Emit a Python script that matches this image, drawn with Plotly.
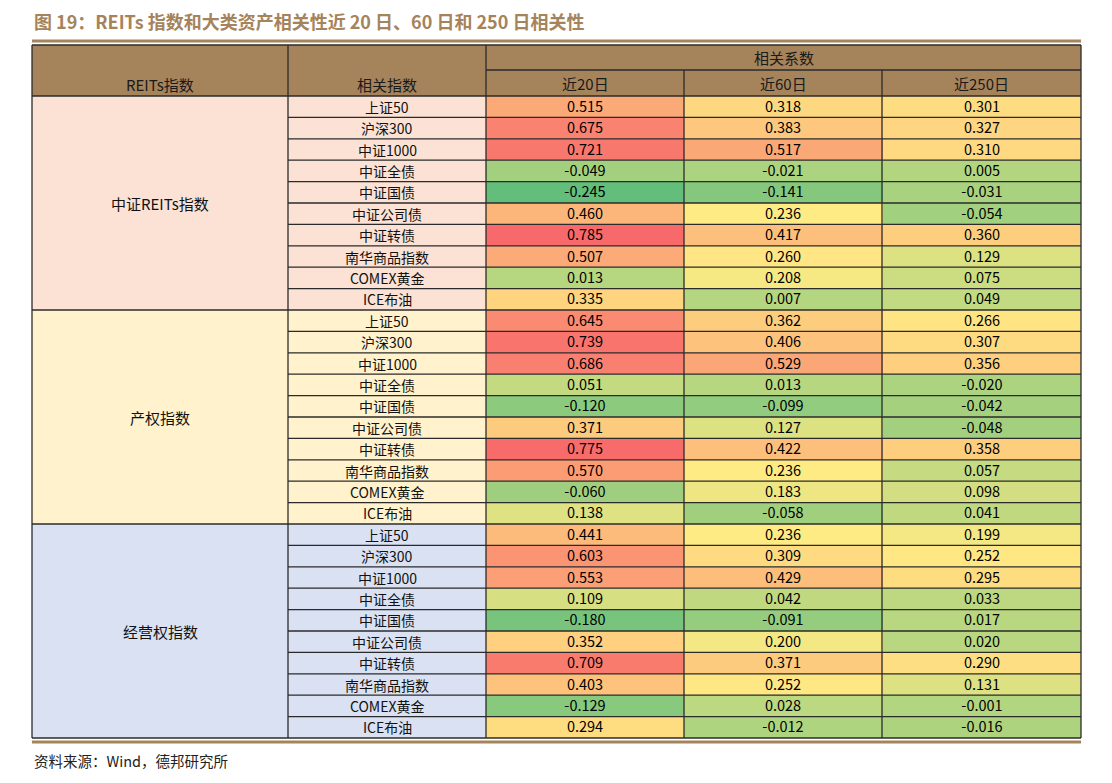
import numpy as np
import plotly.graph_objects as go

# ---- data ----
groups = ["中证REITs指数", "产权指数", "经营权指数"]
assets = ["上证50", "沪深300", "中证1000", "中证全债", "中证国债",
          "中证公司债", "中证转债", "南华商品指数", "COMEX黄金", "ICE布油"]
periods = ["近20日", "近60日", "近250日"]

reits_20 = [0.515, 0.675, 0.721, -0.049, -0.245, 0.460, 0.785, 0.507, 0.013, 0.335]
reits_60 = [0.318, 0.383, 0.517, -0.021, -0.141, 0.236, 0.417, 0.260, 0.208, 0.007]
reits_250 = [0.301, 0.327, 0.310, 0.005, -0.031, -0.054, 0.360, 0.129, 0.075, 0.049]

prop_20 = [0.645, 0.739, 0.686, 0.051, -0.120, 0.371, 0.775, 0.570, -0.060, 0.138]
prop_60 = [0.362, 0.406, 0.529, 0.013, -0.099, 0.127, 0.422, 0.236, 0.183, -0.058]
prop_250 = [0.266, 0.307, 0.356, -0.020, -0.042, -0.048, 0.358, 0.057, 0.098, 0.041]

oper_20 = [0.441, 0.603, 0.553, 0.109, -0.180, 0.352, 0.709, 0.403, -0.129, 0.294]
oper_60 = [0.236, 0.309, 0.429, 0.042, -0.091, 0.200, 0.371, 0.252, 0.028, -0.012]
oper_250 = [0.199, 0.252, 0.295, 0.033, 0.017, 0.020, 0.290, 0.131, -0.001, -0.016]

# ---- layout constants (page pixels) ----
W, H = 1112, 783
PAD = 8  # body margin of the html page
COL_X = [32, 288, 486, 684, 882, 1081]
HEAD_TOP, HEAD_MID, HEAD_BOT = 45, 70, 96
ROW_H = 21.4
HEADER_BG = "#a5835b"
GROUP_BG = ["#fbe2d5", "#fff2cc", "#d9e1f2"]
LINE = "#2b2b2b"
FONT = "Noto Sans CJK SC"
FS = 14

z = np.array([
    np.r_[reits_20, prop_20, oper_20],
    np.r_[reits_60, prop_60, oper_60],
    np.r_[reits_250, prop_250, oper_250],
]).T
n_rows = z.shape[0]
row_tops = [HEAD_BOT + i * ROW_H for i in range(n_rows + 1)]
row_mid = [(row_tops[i] + row_tops[i + 1]) / 2 for i in range(n_rows)]
col_mid = [(COL_X[i] + COL_X[i + 1]) / 2 for i in range(len(COL_X) - 1)]
table_bot = row_tops[-1]

# excel style 3-colour scale, midpoint at the 50th percentile
zmin, zmax = z.min(), z.max()
mid = (np.percentile(z, 50) - zmin) / (zmax - zmin)
colorscale = [[0, "#63be7b"], [mid, "#ffeb84"], [1, "#f8696b"]]
text = [[f"{v:.3f}" for v in row] for row in z]

fig = go.Figure()
fig.add_trace(
    go.Heatmap(
        z=z,
        x=col_mid[2:],
        y=row_mid,
        zmin=zmin,
        zmax=zmax,
        colorscale=colorscale,
        showscale=False,
        text=text,
        texttemplate="%{text}",
        textfont={"family": FONT, "size": 14.5, "color": "#000000"},
        hovertemplate="%{text}<extra></extra>",
    )
)

shapes = []
annotations = []
lfont = {"family": FONT, "size": FS, "color": "#111"}

# header block
shapes.append(dict(type="rect", x0=COL_X[0], x1=COL_X[-1], y0=HEAD_TOP, y1=HEAD_BOT,
                   fillcolor=HEADER_BG, line_width=0, layer="below"))

# group backgrounds (first two columns)
n_per = len(assets)
for g, name in enumerate(groups):
    y0 = row_tops[g * n_per]
    y1 = row_tops[(g + 1) * n_per]
    shapes.append(dict(type="rect", x0=COL_X[0], x1=COL_X[2], y0=y0, y1=y1,
                       fillcolor=GROUP_BG[g], line_width=0, layer="below"))
    annotations.append(dict(x=col_mid[0], y=(y0 + y1) / 2, text=name, showarrow=False,
                            font={**lfont, "size": 15}, borderpad=0))
    for i, a in enumerate(assets):
        annotations.append(dict(x=col_mid[1], y=row_mid[g * n_per + i], text=a,
                                showarrow=False, font=lfont, borderpad=0))

# grid lines
for i, y in enumerate(row_tops):
    x0 = COL_X[0] if i % n_per == 0 else COL_X[1]
    shapes.append(dict(type="line", x0=x0, x1=COL_X[-1], y0=y, y1=y,
                       line={"color": LINE, "width": 1.3}))
shapes.append(dict(type="line", x0=COL_X[0], x1=COL_X[-1], y0=HEAD_TOP, y1=HEAD_TOP,
                   line={"color": LINE, "width": 1.3}))
shapes.append(dict(type="line", x0=COL_X[2], x1=COL_X[-1], y0=HEAD_MID, y1=HEAD_MID,
                   line={"color": LINE, "width": 1.3}))
for j, x in enumerate(COL_X):
    top = HEAD_MID if j in (3, 4) else HEAD_TOP
    shapes.append(dict(type="line", x0=x, x1=x, y0=top, y1=table_bot,
                       line={"color": LINE, "width": 1.3}))

# title rule and bottom rule
shapes.append(dict(type="line", x0=COL_X[0], x1=COL_X[-1], y0=41, y1=41,
                   line={"color": "#a5835b", "width": 3}))
shapes.append(dict(type="line", x0=COL_X[0], x1=COL_X[-1], y0=table_bot + 4,
                   y1=table_bot + 4, line={"color": "#a5835b", "width": 3}))

# header text
hfont = {"family": FONT, "size": 15, "color": "#1a1a1a"}
annotations.append(dict(x=col_mid[0], y=84, text="REITs指数", showarrow=False,
                        font=hfont, borderpad=0))
annotations.append(dict(x=col_mid[1], y=84, text="相关指数", showarrow=False,
                        font=hfont, borderpad=0))
annotations.append(dict(x=(COL_X[2] + COL_X[-1]) / 2, y=(HEAD_TOP + HEAD_MID) / 2,
                        text="相关系数", showarrow=False, font=hfont, borderpad=0))
for j, p in enumerate(periods):
    annotations.append(dict(x=col_mid[2 + j], y=(HEAD_MID + HEAD_BOT) / 2, text=p,
                            showarrow=False, font=hfont, borderpad=0))

# title and source
annotations.append(dict(x=COL_X[0], y=21, xanchor="left", showarrow=False,
                        text="<b>图 19：REITs 指数和大类资产相关性近 20 日、60 日和 250 日相关性</b>",
                        font={"family": FONT, "size": 18, "color": "#a5835b"}))
annotations.append(dict(x=COL_X[0], y=760, xanchor="left", showarrow=False,
                        text="资料来源：Wind，德邦研究所",
                        font={"family": FONT, "size": 14.5, "color": "#222"}))

fig.update_layout(
    width=W,
    height=H,
    margin={"l": 0, "r": 0, "t": 0, "b": 0},
    paper_bgcolor="white",
    plot_bgcolor="white",
    shapes=shapes,
    annotations=annotations,
    xaxis={"range": [PAD, W + PAD], "visible": False, "fixedrange": True},
    yaxis={"range": [H + PAD, PAD], "visible": False, "fixedrange": True},
    showlegend=False,
)

fig.write_html("out.html")
